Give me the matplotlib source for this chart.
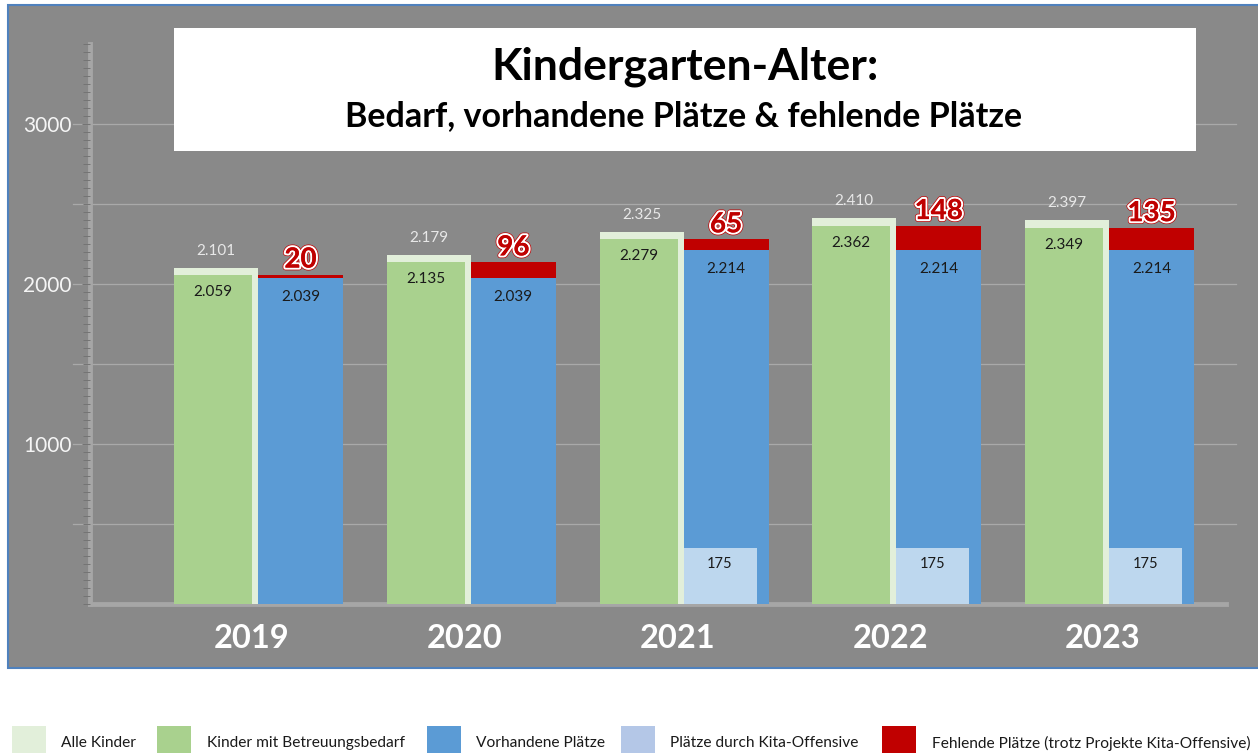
import matplotlib
matplotlib.use("Agg")
import matplotlib.pyplot as plt
import matplotlib.patheffects as pe
from matplotlib.patches import Rectangle
from matplotlib.ticker import MultipleLocator, FixedLocator
import matplotlib.transforms as mtransforms

# ---------------- data ----------------
years = ["2019", "2020", "2021", "2022", "2023"]
alle_kinder = [2101, 2179, 2325, 2410, 2397]
betreuungsbedarf = [2059, 2135, 2279, 2362, 2349]
vorhandene_plaetze = [2039, 2039, 2214, 2214, 2214]
fehlende_plaetze = [20, 96, 65, 148, 135]
kita_offensive_label = [None, None, 175, 175, 175]
kita_offensive_height = [0, 0, 350, 350, 350]   # drawn height
y_ticks = [1000, 2000, 3000]
grid_values = [500, 1000, 1500, 2000, 2500, 3000]

legend_labels = ["Alle Kinder", "Kinder mit Betreuungsbedarf", "Vorhandene Plätze",
                 "Plätze durch Kita-Offensive", "Fehlende Plätze (trotz Projekte Kita-Offensive)"]

# ---------------- style ----------------
C_ALLE = "#e2efda"
C_GREEN = "#a9d18e"
C_BLUE = "#5b9bd5"
C_LBLUE = "#bdd7ee"
C_LBLUE_LEG = "#b4c7e7"
C_RED = "#c00000"
C_BG = "#898989"
FONT = "Lato"

W, H = 1258, 753
fig = plt.figure(figsize=(W / 100, H / 100), dpi=100)
fig.patch.set_facecolor("white")

def fx(px):
    return px / W

def fy(py):
    return 1 - py / H

# outer gray frame
fig.add_artist(Rectangle((fx(8), fy(668)), fx(1262 - 8), (668 - 5) / H,
                         transform=fig.transFigure, facecolor=C_BG,
                         edgecolor="#4f81bd", lw=1.5, zorder=-1))

# axes: x pixel 90 .. 1226, y pixel 604 (0) .. 44 (3500)
ax = fig.add_axes([fx(90), fy(604), fx(1226 - 90), 560 / H])
ax.set_facecolor("none")
unit = 212.75
x0 = -(258 - 90) / unit
x1 = (1226 - 258) / unit
ax.set_xlim(x0, x1)
ax.set_ylim(0, 3500)

for s in ["top", "right"]:
    ax.spines[s].set_visible(False)
for s in ["left", "bottom"]:
    ax.spines[s].set_color("#a6a6a6")
    ax.spines[s].set_linewidth(3.5)
    ax.spines[s].set_zorder(1)

# gridlines
for v in grid_values:
    ax.plot([x0 - 17 / unit, x1 + 10 / unit], [v, v], color="#a9a9a9", lw=0.9,
            clip_on=False, zorder=0.5)

# y ticks
ax.yaxis.set_major_locator(FixedLocator(y_ticks))
ax.yaxis.set_minor_locator(MultipleLocator(50))
ax.tick_params(axis="y", which="major", length=6, width=0.8, color="#747474",
               pad=7, labelsize=15, labelcolor="#f5f5f5")
ax.tick_params(axis="y", which="minor", length=5, width=0.7, color="#747474")
ax.set_yticklabels([str(t) for t in y_ticks], fontfamily=FONT)
ax.set_xticks([])

w_alle = 84 / unit
w_green = 78 / unit
w_blue = 85 / unit
w_lblue = 73 / unit
pts = 0.72  # points per pixel

for i, yr in enumerate(years):
    left = i - w_alle
    ax.bar(left, alle_kinder[i], width=w_alle, align="edge", color=C_ALLE, zorder=2)
    ax.bar(left, betreuungsbedarf[i], width=w_green, align="edge", color=C_GREEN, zorder=3)
    ax.bar(i, vorhandene_plaetze[i], width=w_blue, align="edge", color=C_BLUE, zorder=2)
    ax.bar(i, fehlende_plaetze[i], bottom=vorhandene_plaetze[i], width=w_blue,
           align="edge", color=C_RED, zorder=2)
    if kita_offensive_height[i] > 0:
        ax.bar(i, kita_offensive_height[i], width=w_lblue, align="edge",
               color=C_LBLUE, zorder=3)
        ax.annotate(str(kita_offensive_label[i]), (i + w_lblue / 2, kita_offensive_height[i]),
                    xytext=(0, -16 * pts), textcoords="offset points", ha="center",
                    va="center", fontsize=10.5, color="#1a1a1a", fontfamily=FONT, zorder=5)

    # labels
    ax.annotate(f"{alle_kinder[i] / 1000:.3f}", (left + w_alle / 2, alle_kinder[i]),
                xytext=(0, 17 * pts), textcoords="offset points", ha="center", va="center",
                fontsize=11, color="#e8e8e8", fontfamily=FONT, zorder=5)
    ax.annotate(f"{betreuungsbedarf[i] / 1000:.3f}", (left + w_green / 2, betreuungsbedarf[i]),
                xytext=(0, -17 * pts), textcoords="offset points", ha="center", va="center",
                fontsize=11, color="#1a1a1a", fontfamily=FONT, zorder=5)
    ax.annotate(f"{vorhandene_plaetze[i] / 1000:.3f}", (i + w_blue / 2, vorhandene_plaetze[i]),
                xytext=(0, -19 * pts), textcoords="offset points", ha="center", va="center",
                fontsize=11, color="#1a1a1a", fontfamily=FONT, zorder=5)
    ax.annotate(str(fehlende_plaetze[i]),
                (i + w_blue / 2, vorhandene_plaetze[i] + fehlende_plaetze[i]),
                xytext=(0, 15 * pts), textcoords="offset points", ha="center", va="center",
                fontsize=20, fontweight="bold", color=C_RED, fontfamily=FONT, zorder=6,
                path_effects=[pe.withStroke(linewidth=4, foreground="#c00000"),
                              pe.withStroke(linewidth=3, foreground="white"),
                              pe.Normal()])

    # year label
    trans = mtransforms.blended_transform_factory(ax.transData, ax.transAxes)
    ax.text(i - 6 / unit, (604 - 639) / 560, yr, transform=trans, ha="center",
            va="center", fontsize=23.5, fontweight="bold", color="white",
            fontfamily=FONT, clip_on=False)

# title box
fig.add_artist(Rectangle((fx(174), fy(151)), fx(1196 - 174), (151 - 28) / H,
                         transform=fig.transFigure, facecolor="white",
                         edgecolor="none", zorder=5))
fig.text(fx(685), fy(67), "Kindergarten-Alter:", ha="center", va="center",
         fontsize=32, fontweight="bold", color="black", fontfamily=FONT, zorder=6)
fig.text(fx(684), fy(116), "Bedarf, vorhandene Plätze & fehlende Plätze",
         ha="center", va="center", fontsize=24.5, fontweight="bold", color="black",
         fontfamily=FONT, zorder=6)

# legend
leg_colors = [C_ALLE, C_GREEN, C_BLUE, C_LBLUE_LEG, C_RED]
leg_patch_x = [12, 157, 427, 621, 882]
leg_text_x = [61, 207, 476, 670, 932]
for col, px, tx, lab in zip(leg_colors, leg_patch_x, leg_text_x, legend_labels):
    fig.add_artist(Rectangle((fx(px), fy(760)), fx(34), (760 - 726) / H,
                             transform=fig.transFigure, facecolor=col,
                             edgecolor="none", zorder=2))
    fig.text(fx(tx), fy(743), lab, ha="left", va="center", fontsize=11.2,
             color="#1a1a1a", fontfamily=FONT)

fig.savefig("out.png", dpi=100)
